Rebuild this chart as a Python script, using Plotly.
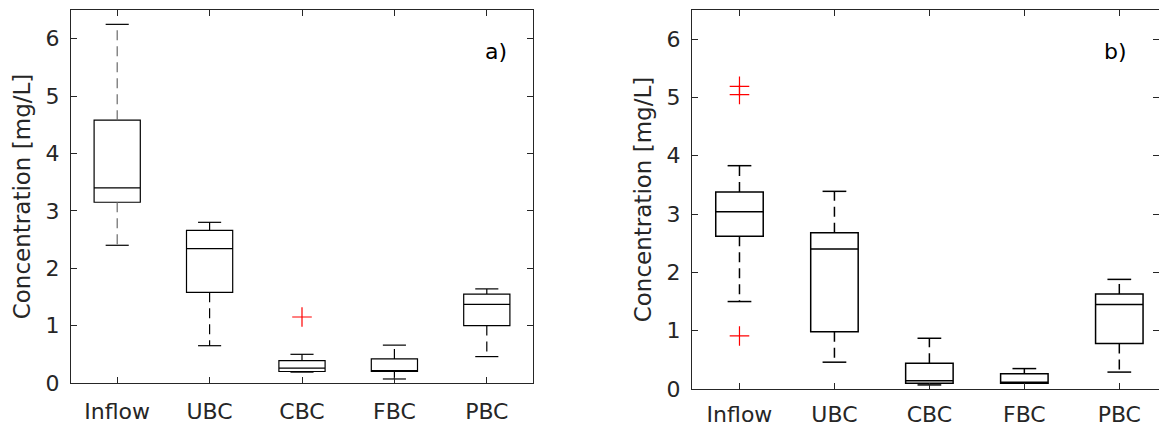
import plotly.graph_objects as go

categories = ["Inflow", "UBC", "CBC", "FBC", "PBC"]
positions = [1, 2, 3, 4, 5]

# Panel a) values [mg/L]
a_lower = [2.40, 0.65, 0.19, 0.07, 0.46]
a_q1 = [3.15, 1.58, 0.20, 0.20, 1.00]
a_median = [3.40, 2.34, 0.26, 0.21, 1.37]
a_q3 = [4.58, 2.66, 0.39, 0.42, 1.55]
a_upper = [6.25, 2.80, 0.50, 0.66, 1.64]
a_out_x = [3]
a_out_y = [1.15]

# Panel b) values [mg/L]
b_lower = [1.50, 0.46, 0.07, 0.10, 0.29]
b_q1 = [2.62, 0.98, 0.10, 0.10, 0.78]
b_median = [3.04, 2.40, 0.14, 0.11, 1.45]
b_q3 = [3.38, 2.68, 0.44, 0.26, 1.63]
b_upper = [3.83, 3.39, 0.87, 0.35, 1.88]
b_out_x = [1, 1, 1]
b_out_y = [5.19, 5.05, 0.91]

y_ticks = [0, 1, 2, 3, 4, 5, 6]

FONT = "DejaVu Sans"
FS = 22
FS_TITLE = 23
TXT = "#262626"
FRAME = "#262626"
BOX_W = 0.5
CAP_HALF = 0.125

fig = go.Figure()


def add_panel(xa, ya, lower, q1, med, q3, upper, ox, oy, whisker_colors, lw):
    fig.add_trace(go.Box(
        x=positions, q1=q1, median=med, q3=q3,
        lowerfence=q1, upperfence=q3,
        width=BOX_W, whiskerwidth=0,
        fillcolor="white", line=dict(color="black", width=lw),
        boxpoints=False, showlegend=False, hoverinfo="skip",
        xaxis=xa, yaxis=ya,
    ))
    for p, lo, a, b, up, col in zip(positions, lower, q1, q3, upper, whisker_colors):
        # dashed whiskers
        fig.add_trace(go.Scatter(
            x=[p, p, None, p, p], y=[b, up, None, a, lo],
            mode="lines", line=dict(color=col, width=lw, dash="10px,6px"),
            showlegend=False, hoverinfo="skip", xaxis=xa, yaxis=ya,
        ))
        # caps
        fig.add_trace(go.Scatter(
            x=[p - CAP_HALF, p + CAP_HALF, None, p - CAP_HALF, p + CAP_HALF],
            y=[up, up, None, lo, lo],
            mode="lines", line=dict(color="black", width=lw),
            showlegend=False, hoverinfo="skip", xaxis=xa, yaxis=ya,
        ))
    fig.add_trace(go.Scatter(
        x=ox, y=oy, mode="markers",
        marker=dict(symbol="cross-thin", size=14, line=dict(color="red", width=1.2)),
        showlegend=False, hoverinfo="skip", xaxis=xa, yaxis=ya,
    ))


add_panel("x", "y", a_lower, a_q1, a_median, a_q3, a_upper, a_out_x, a_out_y,
          ["#6a6a6a", "black", "black", "black", "black"], 1.2)
add_panel("x2", "y2", b_lower, b_q1, b_median, b_q3, b_upper, b_out_x, b_out_y,
          ["black"] * 5, 1.5)

xcommon = dict(
    tickmode="array", tickvals=positions, ticktext=categories,
    ticks="inside", ticklen=6, tickcolor=FRAME, showline=True, linecolor=FRAME,
    linewidth=1.2, mirror="ticks", showgrid=False, zeroline=False,
    tickfont=dict(family=FONT, size=FS, color=TXT),
    automargin=False,
)
ycommon = dict(
    tickmode="array", tickvals=y_ticks, range=[0, 6.5],
    ticks="inside", ticklen=6, tickcolor=FRAME, showline=True, linecolor=FRAME,
    linewidth=1.2, mirror="ticks", showgrid=False, zeroline=False,
    tickfont=dict(family=FONT, size=FS, color=TXT),
    ticklabelstandoff=6, automargin=False,
    title=dict(text="Concentration [mg/L]", font=dict(family=FONT, size=FS_TITLE, color=TXT),
               standoff=8),
)

fig.update_layout(
    width=1159, height=426,
    margin=dict(l=0, r=0, t=0, b=0),
    paper_bgcolor="white", plot_bgcolor="white",
    boxmode="overlay",
    xaxis=dict(xcommon, domain=[71 / 1159, 533 / 1159], range=[0.5, 5.5], anchor="y",
               ticklabelstandoff=8),
    yaxis=dict(ycommon, domain=[1 - 383 / 426, 1 - 10 / 426], anchor="x"),
    xaxis2=dict(xcommon, domain=[692 / 1159, 1.0], range=[0.5, 5.418], anchor="y2",
                ticklabelstandoff=5),
    yaxis2=dict(ycommon, domain=[1 - 389 / 426, 1 - 10 / 426], anchor="x2"),
    annotations=[
        dict(text="a)", x=5.1, y=5.78, xref="x", yref="y", showarrow=False,
             font=dict(family=FONT, size=FS, color="black")),
        dict(text="b)", x=4.955, y=5.78, xref="x2", yref="y2", showarrow=False,
             font=dict(family=FONT, size=FS, color="black")),
    ],
)

fig.write_html(
    "out.html",
    config={"displayModeBar": False},
    post_script="document.body.style.margin='0';document.body.style.overflow='hidden';",
)
